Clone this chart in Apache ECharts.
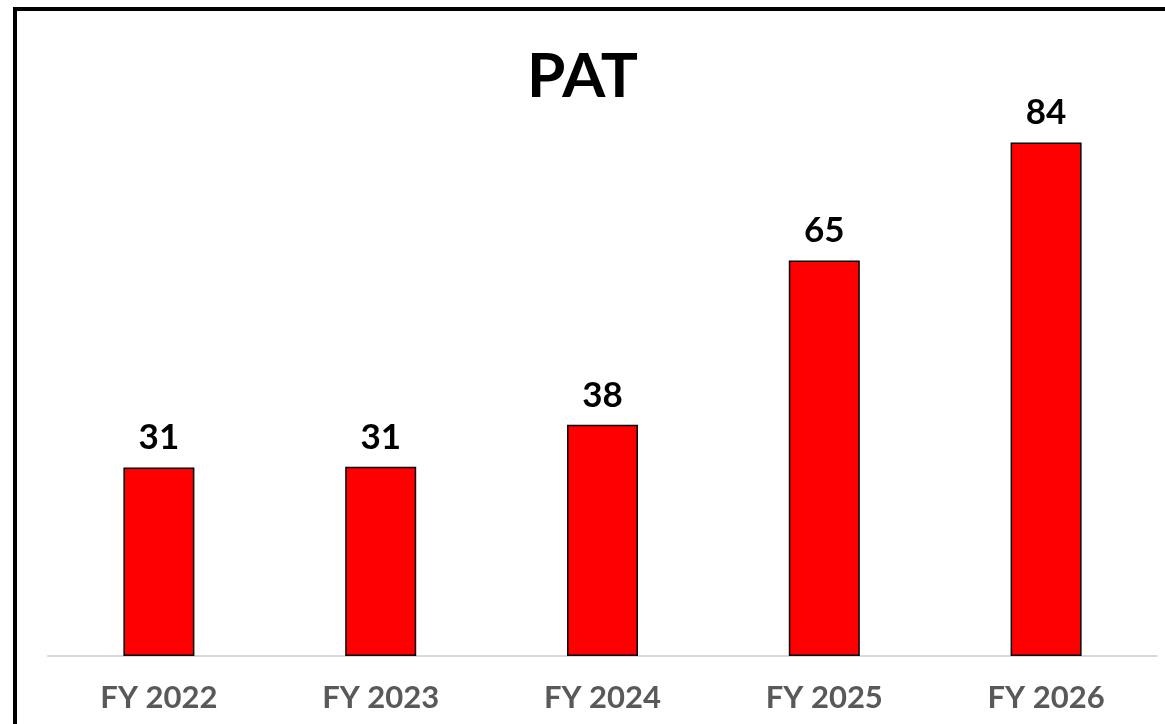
<!DOCTYPE html>
<html>
<head>
<meta charset="utf-8">
<script src="https://cdn.jsdelivr.net/npm/echarts@6/dist/echarts.min.js"></script>
<style>
  html, body { margin: 0; padding: 0; background: #fff; }
  #chart { width: 1165px; height: 724px; }
</style>
</head>
<body>
<div id="chart"></div>
<script>
// datos del grafico
const years = ['FY 2022', 'FY 2023', 'FY 2024', 'FY 2025', 'FY 2026'];
const patValues = [31.0, 31.1, 38.0, 65.0, 84.4];

const chart = echarts.init(document.getElementById('chart'));

const option = {
    animation: false,
    backgroundColor: '#fff',
    title: {
        text: 'PAT',
        left: 'center',
        top: 41,
        textStyle: {
            fontFamily: 'Lato',
            fontWeight: 'bold',
            fontSize: 62,
            color: '#000'
        }
    },
    // marco negro alrededor del grafico
    graphic: [
        {
            type: 'rect',
            shape: { x: 15, y: 9, width: 1200, height: 800 },
            style: { fill: 'none', stroke: '#000', lineWidth: 4 },
            silent: true
        }
    ],
    grid: {
        left: 48,
        right: 8,
        top: 50,
        bottom: 68
    },
    xAxis: {
        type: 'category',
        data: years,
        axisLine: { lineStyle: { color: '#d9d9d9', width: 2 } },
        axisTick: { show: false },
        axisLabel: {
            margin: 26,
            fontFamily: 'Lato',
            fontWeight: 'bold',
            fontSize: 31,
            color: '#595959'
        }
    },
    yAxis: {
        type: 'value',
        min: 0,
        max: 99.6,
        show: false,
        splitLine: { show: false }
    },
    series: [
        {
            type: 'bar',
            data: patValues,
            barWidth: 71,
            itemStyle: {
                color: '#ff0000',
                borderColor: '#000',
                borderWidth: 1.5
            },
            label: {
                show: true,
                position: 'top',
                distance: 12,
                fontFamily: 'Lato',
                fontWeight: 'bold',
                fontSize: 35,
                color: '#000',
                formatter: (p) => Math.round(p.value)
            }
        }
    ]
};

chart.setOption(option);
</script>
</body>
</html>
